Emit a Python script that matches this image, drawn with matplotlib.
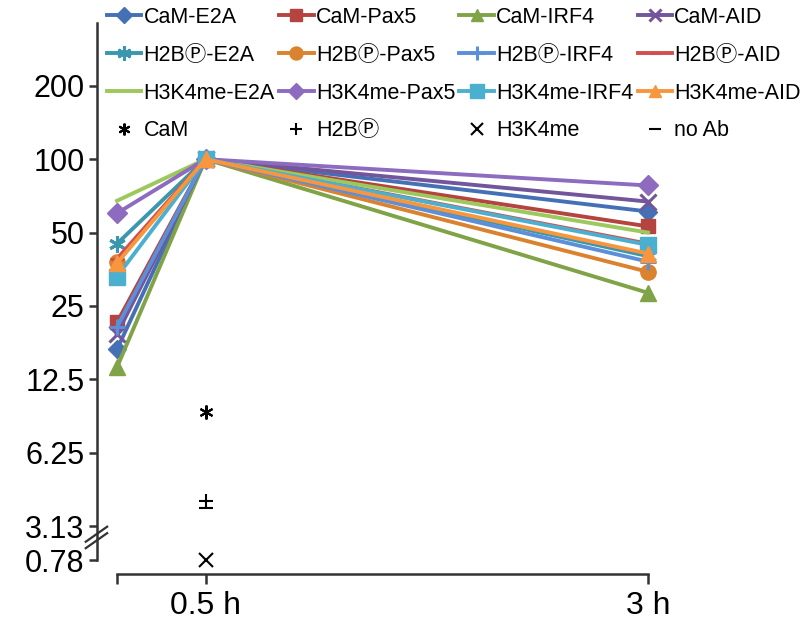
import numpy as np
import matplotlib.pyplot as plt

plt.rcParams['font.family'] = ['Liberation Sans', 'Noto Sans CJK JP', 'DejaVu Sans']

# time points (h), first one is the unlabeled start
times = [0, 0.5, 3]
xlabels = ['', '0.5 h', '3 h']

names = ['CaM-E2A', 'CaM-Pax5', 'CaM-IRF4', 'CaM-AID',
         'H2B\u24c5-E2A', 'H2B\u24c5-Pax5', 'H2B\u24c5-IRF4', 'H2B\u24c5-AID',
         'H3K4me-E2A', 'H3K4me-Pax5', 'H3K4me-IRF4', 'H3K4me-AID']
cam_e2a = [16.6, 100, 61]
cam_pax5 = [21.4, 100, 53]
cam_irf4 = [14, 100, 28.3]
cam_aid = [19.2, 100, 67]
h2b_e2a = [45, 100, 40]
h2b_pax5 = [38, 100, 34.5]
h2b_irf4 = [20.5, 100, 38]
h2b_aid = [39, 100, 45]
h3_e2a = [67.5, 100, 50]
h3_pax5 = [60, 100, 78]
h3_irf4 = [33, 100, 44.5]
h3_aid = [37.5, 100, 41]
series = [cam_e2a, cam_pax5, cam_irf4, cam_aid, h2b_e2a, h2b_pax5,
          h2b_irf4, h2b_aid, h3_e2a, h3_pax5, h3_irf4, h3_aid]

# antibody-only controls at 0.5 h
ctrl_names = ['CaM', 'H2B\u24c5', 'H3K4me', 'no Ab']
ctrl_vals = [9.2, 3.95, 0.78, 3.7]

yticks = [0.78, 3.125, 6.25, 12.5, 25, 50, 100, 200]
yticklabels = ['0.78', '3.13', '6.25', '12.5', '25', '50', '100', '200']

colors = ['#4670B5', '#B5433F', '#7FA346', '#72559A',
          '#3A97AD', '#DA822E', '#5B8FD8', '#D0504D',
          '#9DC85B', '#8D6BBF', '#4BAFD0', '#F7963F']
star = (6, 2, 0)
markers = ['D', 's', '^', 'x', star, 'o', '+', '_', 'None', 'D', 's', '^']
msizes = [9, 10, 11, 11, 12, 11, 12, 10, 1, 10, 12, 11]
ctrl_markers = [star, '+', 'x', '_']

# log2 scale, compressed below 3.13 (axis break)
B = np.log2(3.125)
K = 0.231


def fwd(y):
    y = np.asarray(y, dtype=float)
    ly = np.log2(np.clip(y, 1e-6, None))
    return np.where(ly >= B, ly, B - (B - ly) * K)


def inv(v):
    v = np.asarray(v, dtype=float)
    return np.where(v >= B, 2.0 ** v, 2.0 ** (B - (B - v) / K))


fig = plt.figure(figsize=(8.07, 6.23), dpi=100)
ax = fig.add_axes([97/807, 1-560/623, (660-97)/807, (560-23)/623])
ax.set_yscale('function', functions=(fwd, inv))

handles = []
for i in range(len(series)):
    h, = ax.plot(times, series[i], color=colors[i], lw=2.8, marker=markers[i],
                 ms=msizes[i], mew=2.2 if markers[i] in ['x', '+', star, '_'] else 1,
                 label=names[i], clip_on=False)
    handles.append(h)

for i in range(len(ctrl_vals)):
    h, = ax.plot([0.5], [ctrl_vals[i]], ls='None', marker=ctrl_markers[i], color='black',
                 ms=10, mew=1.5, label=ctrl_names[i], clip_on=False)
    handles.append(h)

ax.set_xlim(-20/177, 3 + 12/177)
ax.set_ylim(0.78, 362)
ax.set_yticks(yticks)
ax.set_yticklabels(yticklabels)
ax.yaxis.set_minor_locator(plt.NullLocator())
ax.set_xticks(times)
ax.set_xticklabels(xlabels)

for s in ['top', 'right']:
    ax.spines[s].set_visible(False)
ax.spines['left'].set_linewidth(1.8)
ax.spines['bottom'].set_linewidth(1.8)
ax.spines['left'].set_color('#333333')
ax.spines['bottom'].set_color('#333333')
ax.spines['bottom'].set_position(('outward', 10))
ax.spines['bottom'].set_bounds(0, 3)
ax.tick_params(axis='y', direction='out', length=6, width=1.8, color='#333333',
               labelsize=22, pad=3)
ax.tick_params(axis='x', direction='out', length=7, width=1.8, color='#333333',
               labelsize=23, pad=5)

# break marks on the y axis
for dy in [0, 0.012]:
    ax.plot([-0.02, 0.018], [0.022 + dy, 0.05 + dy], transform=ax.transAxes,
            color='#333333', lw=1.6, clip_on=False)

# legend is row-major in the reference, matplotlib fills columns first
nrow, ncol = 4, 4
order = [r * ncol + c for c in range(ncol) for r in range(nrow)]
fig.legend([handles[i] for i in order], [handles[i].get_label() for i in order],
           loc='upper left', bbox_to_anchor=(107/807, 1 - 7/623), ncol=4,
           frameon=False, fontsize=15.5, borderpad=0, borderaxespad=0,
           handlelength=1.6, handletextpad=0.1, columnspacing=0.2,
           labelspacing=0.78, numpoints=1, markerscale=0.85)

fig.savefig('out.png', dpi=100)
